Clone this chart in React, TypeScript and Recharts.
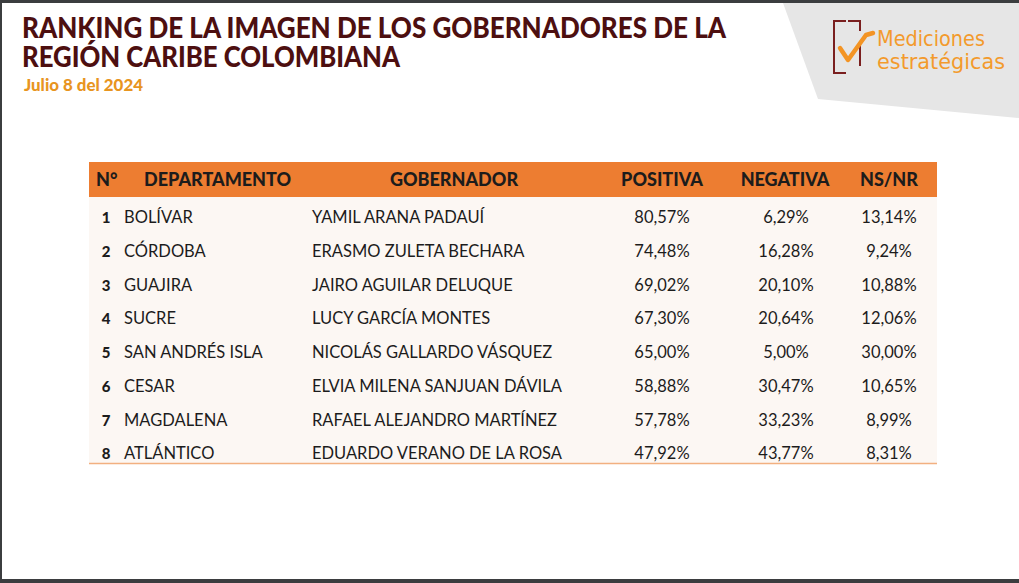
import React from 'react';
import { ComposedChart, Bar, XAxis, YAxis } from 'recharts';

const ranks = [1, 2, 3, 4, 5, 6, 7, 8];
const departamentos = ['BOLÍVAR', 'CÓRDOBA', 'GUAJIRA', 'SUCRE', 'SAN ANDRÉS ISLA', 'CESAR', 'MAGDALENA', 'ATLÁNTICO'];
const gobernadores = [
  'YAMIL ARANA PADAUÍ',
  'ERASMO ZULETA BECHARA',
  'JAIRO AGUILAR DELUQUE',
  'LUCY GARCÍA MONTES',
  'NICOLÁS GALLARDO VÁSQUEZ',
  'ELVIA MILENA SANJUAN DÁVILA',
  'RAFAEL ALEJANDRO MARTÍNEZ',
  'EDUARDO VERANO DE LA ROSA',
];
const positiva = [80.57, 74.48, 69.02, 67.3, 65.0, 58.88, 57.78, 47.92];
const negativa = [6.29, 16.28, 20.1, 20.64, 5.0, 30.47, 33.23, 43.77];
const nsnr = [13.14, 9.24, 10.88, 12.06, 30.0, 10.65, 8.99, 8.31];
const headers = ['N°', 'DEPARTAMENTO', 'GOBERNADOR', 'POSITIVA', 'NEGATIVA', 'NS/NR'];

const data = ranks.map((r, i) => ({
  rank: r,
  dep: departamentos[i],
  gob: gobernadores[i],
  pos: positiva[i],
  neg: negativa[i],
  ns: nsnr[i],
  full: 100,
}));

const fmt = (v: number) => v.toFixed(2).replace('.', ',') + '%';

const FONT = 'Lato, "Open Sans", sans-serif';
const TEXT = '#1c1c1c';

// column offsets relative to table left (px)
const COL = { rank: 17, dep: 35, gob: 223, pos: 573, neg: 697, ns: 800 };

const RowShape = (props: any) => {
  const { x, y, height, payload } = props;
  const by = y + height / 2 + 6;
  return (
    <g fontFamily={FONT} fill={TEXT}>
      <text x={x + COL.rank} y={by} fontSize={15} fontWeight={900} textAnchor="middle">{payload.rank}</text>
      <text x={x + COL.dep} y={by} fontSize={16.5}>{payload.dep}</text>
      <text x={x + COL.gob} y={by} fontSize={16.5}>{payload.gob}</text>
      <text x={x + COL.pos} y={by} fontSize={16.5} textAnchor="middle">{fmt(payload.pos)}</text>
      <text x={x + COL.neg} y={by} fontSize={16.5} textAnchor="middle">{fmt(payload.neg)}</text>
      <text x={x + COL.ns} y={by} fontSize={16.5} textAnchor="middle">{fmt(payload.ns)}</text>
    </g>
  );
};

const TL = 89;
const TR = 937;

export default function App() {
  return (
    <div style={{ position: 'absolute', left: 0, top: 0, width: 1019, height: 583, background: '#fff', overflow: 'hidden' }}>
      <svg width={1019} height={583} style={{ position: 'absolute', left: 0, top: 0 }}>
        <rect x={0} y={0} width={1019} height={583} fill="#3b3d3f" />
        <rect x={2} y={3} width={1017} height={576} fill="#ffffff" />
        <polygon points="783,3 1019,3 1019,118 818,99" fill="#e6e6e6" />
        {/* logo */}
        <polyline points="846,21 834,21 834,73 846,73" fill="none" stroke="#7a1f1f" strokeWidth={2} />
        <polyline points="848,21 860,21 860,31" fill="none" stroke="#7a1f1f" strokeWidth={2} />
        <polyline points="860,44 860,66" fill="none" stroke="#7a1f1f" strokeWidth={2} />
        <polyline points="840,48 848,60 866,35 873,33" fill="none" stroke="#f39424" strokeWidth={4.5} strokeLinejoin="round" strokeLinecap="round" />
        <text x={877} y={46} fontFamily='"DejaVu Sans Condensed", "DejaVu Sans", sans-serif' fontSize={21} fill="#f39a2c" textLength={108} lengthAdjust="spacingAndGlyphs">Mediciones</text>
        <text x={877} y={69} fontFamily='"DejaVu Sans Condensed", "DejaVu Sans", sans-serif' fontSize={21} fill="#f39a2c" textLength={128} lengthAdjust="spacingAndGlyphs">estratégicas</text>
        {/* titles */}
        <text x={22} y={38} fontFamily={FONT} fontWeight={900} fontSize={27.5} fill="#4d0f10" textLength={704} lengthAdjust="spacingAndGlyphs">RANKING DE LA IMAGEN DE LOS GOBERNADORES DE LA</text>
        <text x={22} y={67} fontFamily={FONT} fontWeight={900} fontSize={27.5} fill="#4d0f10" textLength={378} lengthAdjust="spacingAndGlyphs">REGIÓN CARIBE COLOMBIANA</text>
        <text x={24} y={91} fontFamily={FONT} fontWeight={900} fontSize={16} fill="#e8951f" textLength={119} lengthAdjust="spacingAndGlyphs">Julio 8 del 2024</text>
        {/* table frame */}
        <rect x={TL} y={162} width={TR - TL} height={35} fill="#ed7d31" />
        <rect x={TL} y={197} width={TR - TL} height={266} fill="#fcf7f3" />
        <line x1={TL} x2={TR} y1={463.5} y2={463.5} stroke="#f2b080" strokeWidth={1.5} />
        <g fontFamily={FONT} fontWeight={900} fontSize={18} fill={TEXT}>
          <text x={TL + 7} y={186}>{headers[0]}</text>
          <text x={TL + 55} y={186}>{headers[1]}</text>
          <text x={454} y={186} textAnchor="middle">{headers[2]}</text>
          <text x={662} y={186} textAnchor="middle">{headers[3]}</text>
          <text x={785} y={186} textAnchor="middle">{headers[4]}</text>
          <text x={889} y={186} textAnchor="middle">{headers[5]}</text>
        </g>
      </svg>
      <div style={{ position: 'absolute', left: 0, top: 0 }}>
        <ComposedChart
          width={1019}
          height={583}
          layout="vertical"
          data={data}
          margin={{ top: 200, bottom: 583 - 470, left: TL, right: 1019 - TR }}
          barCategoryGap={0}
        >
          <XAxis type="number" domain={[0, 100]} hide />
          <YAxis type="category" dataKey="rank" hide />
          <Bar dataKey="full" shape={RowShape} isAnimationActive={false} />
        </ComposedChart>
      </div>
    </div>
  );
}
